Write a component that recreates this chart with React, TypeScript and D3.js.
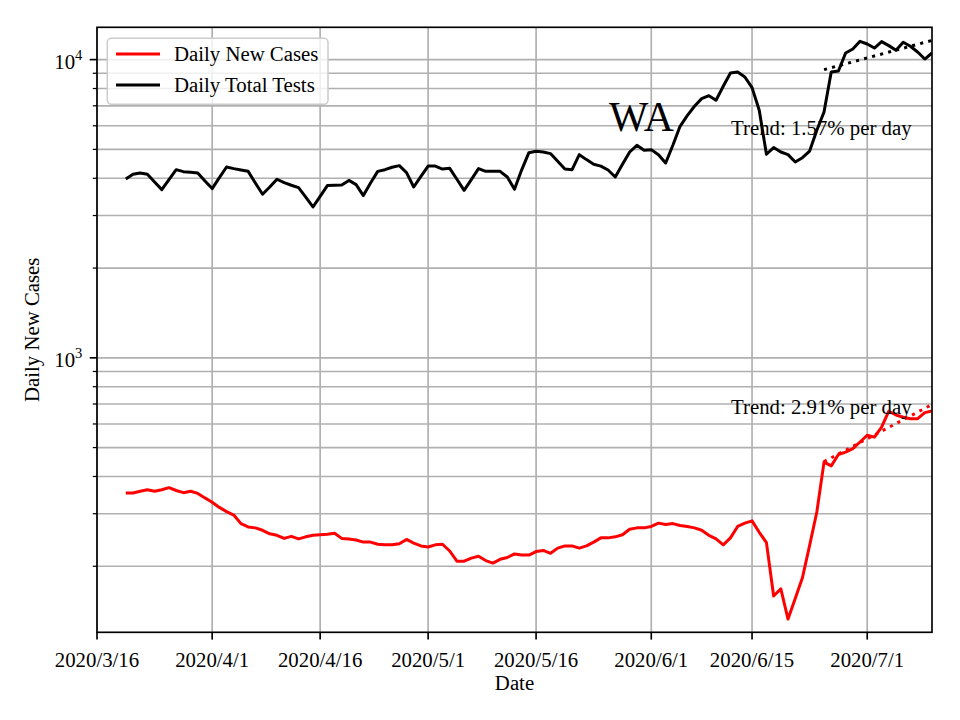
import React from 'react';
import * as d3 from 'd3';

// ---------------- data ----------------
const START_DATE = '2020-03-20';
const X_START = '2020-03-16';
const X_END = '2020-07-10';

const dailyNewCases = [
  352, 352, 357, 361, 357, 361, 367, 359, 353, 357,
  351, 339, 328, 315, 305, 297, 278, 271, 269, 264,
  257, 254, 248, 252, 247, 251, 254, 255, 256, 258,
  248, 247, 245, 241, 241, 237, 236, 236, 238, 246,
  239, 234, 232, 236, 237, 225, 208, 208, 213, 216,
  209, 205, 211, 214, 220, 218, 218, 224, 226, 221,
  230, 234, 234, 230, 234, 241, 249, 249, 251, 255,
  266, 269, 269, 272, 279, 276, 278, 274, 272, 269,
  264, 254, 247, 236, 249, 272, 279, 284, 260, 240,
  159, 168, 133, 156, 183, 235, 304, 447, 434, 474,
  483, 496, 522, 550, 542, 586, 662, 643, 632, 625,
  625, 655, 663,
];

const dailyTotalTests = [
  3980, 4125, 4165, 4125, 3885, 3665, 3960, 4275, 4210, 4190,
  4165, 3915, 3695, 4020, 4365, 4310, 4265, 4220, 3855, 3535,
  3740, 3970, 3870, 3790, 3720, 3460, 3205, 3480, 3780, 3790,
  3800, 3935, 3810, 3500, 3855, 4220, 4275, 4355, 4410, 4180,
  3740, 4060, 4395, 4395, 4295, 4320, 3970, 3645, 3960, 4310,
  4220, 4220, 4220, 4040, 3675, 4270, 4875, 4925, 4900, 4840,
  4560, 4295, 4275, 4800, 4620, 4455, 4395, 4265, 4040, 4455,
  4900, 5160, 4965, 4990, 4800, 4500, 5160, 5975, 6490, 6975,
  7400, 7570, 7305, 8140, 9015, 9085, 8745, 8055, 6760, 4815,
  5070, 4900, 4800, 4535, 4690, 4935, 5795, 6675, 9085, 9160,
  10525, 10855, 11520, 11280, 10935, 11490, 11140, 10745, 11430, 11085,
  10605, 10045, 10525,
];

const xTickLabels = ['2020/3/16', '2020/4/1', '2020/4/16', '2020/5/1', '2020/5/16', '2020/6/1', '2020/6/15', '2020/7/1'];
const yDomain = [120.1, 12834];
const yMajorTicks = [1000, 10000];
const yMajorExponents = ['3', '4'];
const TREND_DAYS = 16;
const caseTrendLabel = 'Trend: 2.91% per day';
const testTrendLabel = 'Trend: 1.57% per day';
const regionLabel = 'WA';
const legendLabels = ['Daily New Cases', 'Daily Total Tests'];
const xAxisLabel = 'Date';
const yAxisLabel = 'Daily New Cases';

// ---------------- layout ----------------
const W = 960;
const H = 720;
const L = 97;
const R = 932;
const T = 27.3;
const B = 632.3;
const FONT = '"Liberation Serif", "Times New Roman", Times, serif';
const FS = 20.8;
const GRID = '#b0b0b0';

const parseSlash = (s: string) => {
  const [y, m, d] = s.split('/').map(Number);
  return new Date(Date.UTC(y, m - 1, d));
};
const parseIso = (s: string) => new Date(s + 'T00:00:00Z');

export default function App() {
  const start = parseIso(START_DATE);
  const dates = dailyNewCases.map((_, i) => d3.utcDay.offset(start, i));
  const x = d3.scaleUtc().domain([parseIso(X_START), parseIso(X_END)]).range([L, R]);
  const y = d3.scaleLog().domain(yDomain).range([B, T]);

  const line = d3
    .line<number>()
    .x((_, i) => x(dates[i]))
    .y((v) => y(v));

  // least-squares exponential trend over the last TREND_DAYS points
  const trend = (vals: number[]) => {
    const n = vals.length;
    const idx = d3.range(n - TREND_DAYS, n);
    const xs = idx.map((i) => i);
    const ys = idx.map((i) => Math.log10(vals[i]));
    const mx = d3.mean(xs)!;
    const my = d3.mean(ys)!;
    const slope = d3.sum(xs.map((xi, k) => (xi - mx) * (ys[k] - my))) / d3.sum(xs.map((xi) => (xi - mx) ** 2));
    const pts = [idx[0], idx[idx.length - 1]].map((i) => [x(dates[i]), y(Math.pow(10, my + slope * (i - mx)))]);
    return `M${pts[0][0]},${pts[0][1]}L${pts[1][0]},${pts[1][1]}`;
  };

  // y ticks (major + minor)
  const allY: number[] = [];
  for (let e = 2; e <= 4; e++) {
    for (let k = 1; k <= 9; k++) {
      const v = k * Math.pow(10, e);
      if (v >= yDomain[0] && v <= yDomain[1]) allY.push(v);
    }
  }
  for (let k = 1; k <= 9; k++) {
    const v = k * 100;
    if (v >= yDomain[0] && v <= yDomain[1] && !allY.includes(v)) allY.push(v);
  }
  const minorY = allY.filter((v) => !yMajorTicks.includes(v));
  const xTicks = xTickLabels.map(parseSlash);

  return (
    <svg width={W} height={H} style={{ position: 'absolute', left: 0, top: 0, background: '#fff' }} fontFamily={FONT}>
      <rect x={0} y={0} width={W} height={H} fill="#fff" />
      <defs>
        <clipPath id="plot">
          <rect x={L} y={T} width={R - L} height={B - T} />
        </clipPath>
      </defs>
      {/* grid */}
      <g stroke={GRID} strokeWidth={1.67}>
        {allY.map((v) => (
          <line key={'gy' + v} x1={L} x2={R} y1={y(v)} y2={y(v)} />
        ))}
        {xTicks.map((d, i) => (
          <line key={'gx' + i} x1={x(d)} x2={x(d)} y1={T} y2={B} />
        ))}
      </g>
      {/* series */}
      <g clipPath="url(#plot)" fill="none" strokeWidth={3} strokeLinejoin="round">
        <path d={line(dailyNewCases)!} stroke="#ff0000" />
        <path d={line(dailyTotalTests)!} stroke="#000000" />
        <path d={trend(dailyTotalTests)} stroke="#000000" strokeDasharray="3.1 5.2" />
        <path d={trend(dailyNewCases)} stroke="#ff0000" strokeDasharray="3.1 5.2" />
      </g>
      {/* annotations */}
      <text x={609} y={131} fontSize={41.7} fill="#000">{regionLabel}</text>
      <text x={731} y={135} fontSize={FS} fill="#000">{testTrendLabel}</text>
      <text x={731} y={414} fontSize={FS} fill="#000">{caseTrendLabel}</text>
      {/* spines */}
      <rect x={L} y={T} width={R - L} height={B - T} fill="none" stroke="#000" strokeWidth={1.67} />
      {/* x ticks */}
      <g>
        {xTicks.map((d, i) => (
          <g key={'xt' + i}>
            <line x1={x(d)} x2={x(d)} y1={B} y2={B + 7.3} stroke="#000" strokeWidth={1.67} />
            <text x={x(d)} y={667} fontSize={FS} textAnchor="middle" fill="#000">
              {xTickLabels[i]}
            </text>
          </g>
        ))}
      </g>
      {/* y ticks */}
      <g>
        {yMajorTicks.map((v, i) => (
          <g key={'ym' + v}>
            <line x1={L - 7.3} x2={L} y1={y(v)} y2={y(v)} stroke="#000" strokeWidth={1.67} />
            <text x={82.4} y={y(v) + 9.5} fontSize={FS} textAnchor="end" fill="#000">
              10
              <tspan dy={-9} fontSize={14.6}>{yMajorExponents[i]}</tspan>
            </text>
          </g>
        ))}
        {minorY.map((v) => (
          <line key={'yn' + v} x1={L - 4.2} x2={L} y1={y(v)} y2={y(v)} stroke="#000" strokeWidth={1.25} />
        ))}
      </g>
      {/* axis labels */}
      <text x={(L + R) / 2} y={690} fontSize={FS} textAnchor="middle" fill="#000">{xAxisLabel}</text>
      <text
        transform={`translate(38.5,${(T + B) / 2}) rotate(-90)`}
        fontSize={FS}
        textAnchor="middle"
        fill="#000"
      >
        {yAxisLabel}
      </text>
      {/* legend */}
      <g>
        <rect x={107.3} y={38.3} width={220.7} height={66} rx={4} ry={4} fill="#fff" fillOpacity={0.8} stroke="#cccccc" strokeWidth={1.5} />
        <line x1={116} x2={160} y1={54} y2={54} stroke="#ff0000" strokeWidth={3} />
        <text x={174} y={61} fontSize={FS} fill="#000">{legendLabels[0]}</text>
        <line x1={116} x2={160} y1={85} y2={85} stroke="#000" strokeWidth={3} />
        <text x={174} y={92} fontSize={FS} fill="#000">{legendLabels[1]}</text>
      </g>
    </svg>
  );
}
